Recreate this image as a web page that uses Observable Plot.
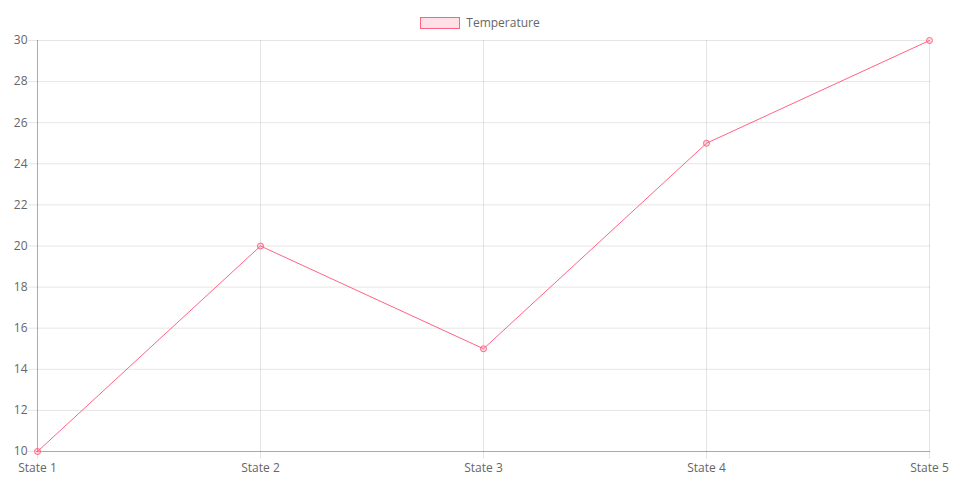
<!DOCTYPE html>
<html>
<head>
<meta charset="utf-8">
<script src="https://cdn.jsdelivr.net/npm/d3@7"></script>
<script src="https://cdn.jsdelivr.net/npm/@observablehq/plot@0.6"></script>
<style>
  html, body { margin: 0; padding: 0; background: #fff; }
  body { width: 960px; height: 500px; overflow: hidden; font-family: 'Open Sans', sans-serif; position: relative; }
  #legend { position: absolute; left: 0; top: 0; width: 960px; height: 34px; display: flex; justify-content: center; align-items: flex-start; box-sizing: border-box; padding-top: 17px; font-size: 12px; color: #666; z-index: 2; }
  #legend .sw { width: 40px; height: 12px; box-sizing: border-box; border: 1px solid rgb(255,99,132); background: rgba(255,99,132,0.2); margin-right: 6px; }
  #legend .lbl { line-height: 12px; }
  #chart svg { display: block; }
</style>
</head>
<body>
<div id="legend"><div class="sw"></div><div class="lbl">Temperature</div></div>
<div id="chart"></div>
<script>
const states = ["State 1", "State 2", "State 3", "State 4", "State 5"];
const temperature = [10, 20, 15, 25, 30];
const yTicks = [10, 12, 14, 16, 18, 20, 22, 24, 26, 28, 30];

const data = states.map((s, i) => ({state: s, value: temperature[i]}));
const grid = "rgba(0,0,0,0.1)";
const axisLine = "rgba(0,0,0,0.25)";
const color = "rgb(255,99,132)";

const chart = Plot.plot({
  width: 960,
  height: 500,
  marginTop: 40,
  marginBottom: 49,
  marginLeft: 36,
  marginRight: 30,
  style: {fontFamily: "'Open Sans', sans-serif", fontSize: "12px", color: "#666", background: "#fff"},
  x: {type: "point", domain: states, padding: 0},
  y: {domain: [10, 30]},
  marks: [
    Plot.ruleY(yTicks, {stroke: grid}),
    Plot.ruleX(states, {stroke: grid}),
    Plot.axisY(yTicks, {tickSize: 8, tickPadding: 1, stroke: grid, fill: "#666", label: null}),
    Plot.axisX(states, {tickSize: 8, tickPadding: 4, stroke: grid, fill: "#666", label: null}),
    Plot.ruleX([states[0]], {stroke: axisLine}),
    Plot.ruleY([10], {stroke: axisLine}),
    Plot.line(data, {x: "state", y: "value", stroke: color, strokeWidth: 1}),
    Plot.dot(data, {x: "state", y: "value", r: 3, stroke: color, fill: color, fillOpacity: 0.2, strokeWidth: 1})
  ]
});
document.getElementById("chart").appendChild(chart);
</script>
</body>
</html>
